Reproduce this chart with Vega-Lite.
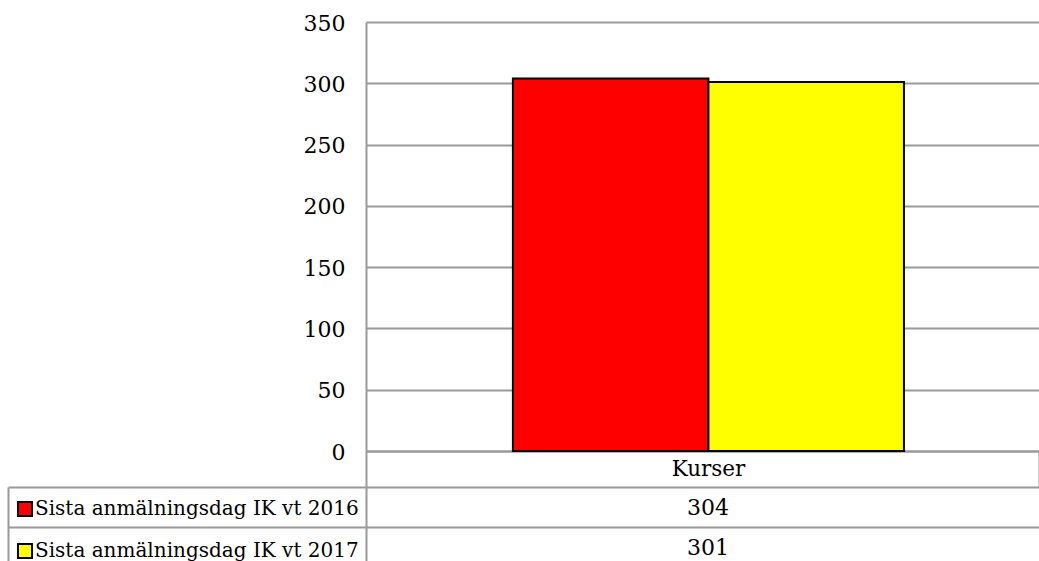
{
  "$schema": "https://vega.github.io/schema/vega-lite/v6.json",
  "padding": {"left": 7, "top": 12, "right": 0, "bottom": 0},
  "background": "white",
  "config": {"view": {"stroke": null}, "font": "DejaVu Serif"},
  "bounds": "flush",
  "spacing": 36,
  "data": {"values": [
    {"category": "Kurser", "series": "Sista anmälningsdag IK vt 2016", "value": 304},
    {"category": "Kurser", "series": "Sista anmälningsdag IK vt 2017", "value": 301}
  ]},
  "vconcat": [
    {
      "width": 673,
      "height": 429,
      "mark": {"type": "bar", "stroke": "black", "strokeWidth": 2},
      "encoding": {
        "x": {
          "field": "category", "type": "nominal",
          "scale": {"paddingInner": 0, "paddingOuter": 0},
          "axis": {
            "title": null, "labelAngle": 0, "domain": true, "domainColor": "#999999", "domainWidth": 2,
            "ticks": true, "tickBand": "extent", "tickSize": 36, "tickColor": "#999999", "tickWidth": 2,
            "labelFont": "DejaVu Serif", "labelFontSize": 21.5, "labelColor": "black",
            "labelBaseline": "middle", "labelPadding": -18, "labelOffset": 5.5
          }
        },
        "xOffset": {
          "field": "series", "type": "nominal",
          "scale": {"paddingInner": 0, "paddingOuter": 0.721, "align": 0.521}
        },
        "y": {
          "field": "value", "type": "quantitative",
          "scale": {"domain": [0, 350], "nice": false},
          "axis": {
            "title": null, "values": [0, 50, 100, 150, 200, 250, 300, 350],
            "domain": true, "domainColor": "#999999", "domainWidth": 2,
            "ticks": false, "grid": true, "gridColor": "#999999", "gridWidth": 2,
            "labelFont": "DejaVu Serif", "labelFontSize": 22, "labelColor": "black", "labelPadding": 21,
            "labelOffset": 1
          }
        },
        "color": {
          "field": "series", "type": "nominal",
          "scale": {"range": ["#ff0000", "#ffff00"]},
          "legend": {
            "orient": "none", "legendX": -351, "legendY": 477, "title": null, "direction": "vertical",
            "symbolType": "square", "symbolSize": 196, "symbolStrokeColor": "black", "symbolStrokeWidth": 2,
            "labelFont": "DejaVu Serif", "labelFontSize": 20, "labelColor": "black", "labelLimit": 500,
            "labelOffset": 0, "rowPadding": 20
          }
        }
      }
    },
    {
      "width": 673,
      "height": 80,
      "layer": [
        {
          "mark": {"type": "text", "font": "DejaVu Serif", "fontSize": 22, "color": "black", "dx": 5.5, "dy": 1},
          "encoding": {
            "y": {
              "field": "series", "type": "nominal",
              "scale": {"paddingInner": 0, "paddingOuter": 0},
              "axis": {
                "title": null, "labels": false, "domain": true, "domainColor": "#999999", "domainWidth": 2,
                "ticks": true, "tickBand": "extent", "tickSize": 358, "tickColor": "#999999", "tickWidth": 2,
                "grid": true, "gridColor": "#999999", "gridWidth": 2
              }
            },
            "text": {"field": "value", "type": "quantitative"}
          }
        },
        {
          "mark": {"type": "text", "opacity": 0},
          "encoding": {
            "y": {
              "field": "series", "type": "nominal",
              "axis": {
                "orient": "left", "offset": 358, "title": null, "labels": false, "ticks": false, "grid": false,
                "domain": true, "domainColor": "#999999", "domainWidth": 2
              }
            },
            "text": {"field": "value", "type": "quantitative"}
          }
        }
      ],
      "resolve": {"axis": {"y": "independent"}}
    }
  ]
}
